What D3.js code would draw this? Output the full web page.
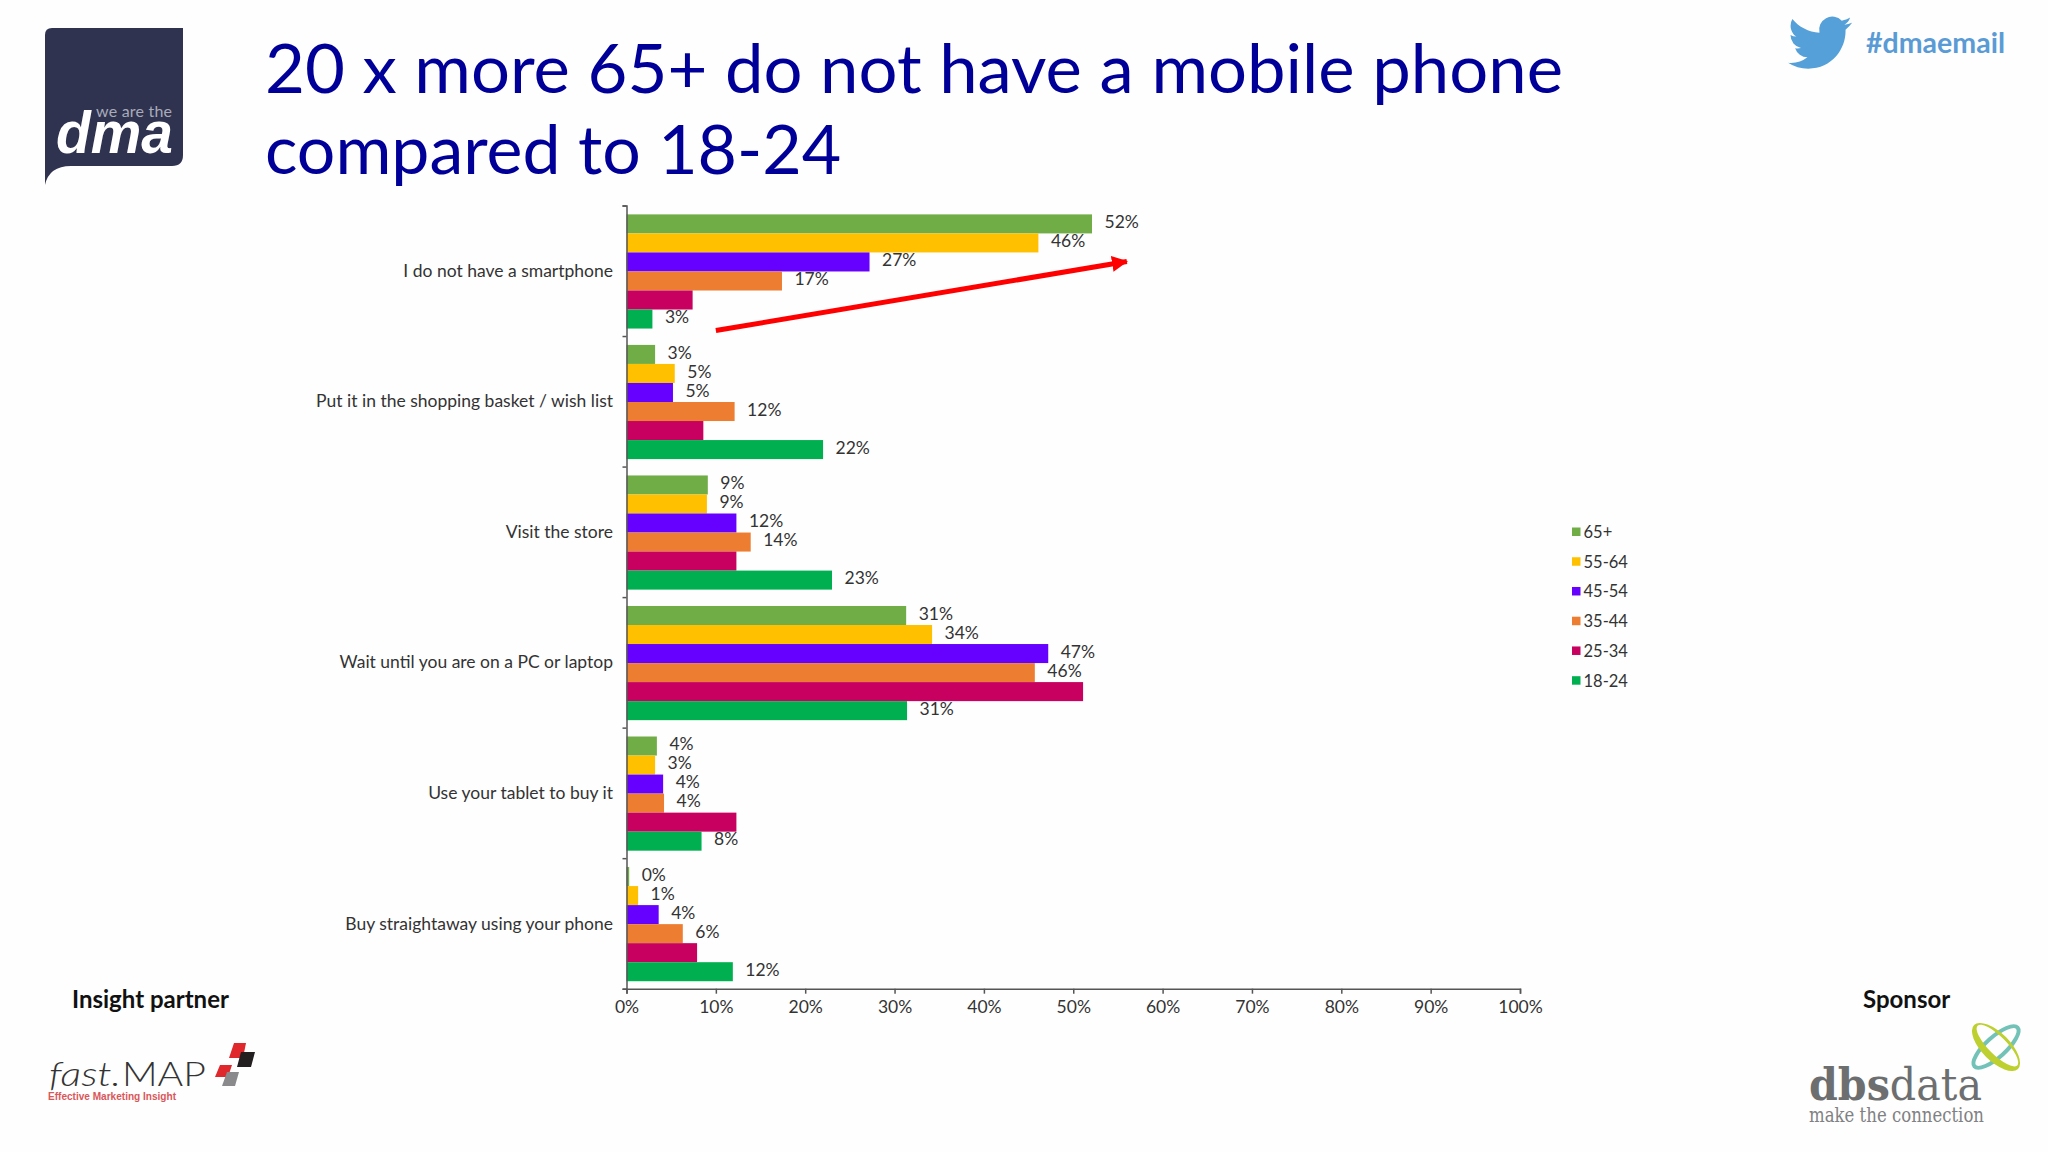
<!DOCTYPE html>
<html>
<head>
<meta charset="utf-8">
<script src="https://cdn.jsdelivr.net/npm/d3@7"></script>
<style>
	html, body { margin: 0; padding: 0; background: #fefefe; }
	svg { display: block; }
	text { font-family: Lato, sans-serif; }
	.axis path, .axis line { stroke: #555; stroke-width: 1.5px; }
	.axis text { font-size: 17.5px; fill: #333; font-family: Lato, sans-serif; }
</style>
</head>
<body>
<svg id="chart" width="2048" height="1152"></svg>
<script>
var categories = ["I do not have a smartphone", "Put it in the shopping basket / wish list", "Visit the store", "Wait until you are on a PC or laptop", "Use your tablet to buy it", "Buy straightaway using your phone"];
var series_names = ["65+", "55-64", "45-54", "35-44", "25-34", "18-24"];
var series_colors = ["#70ad47", "#ffc000", "#6600ff", "#ed7d31", "#c8005f", "#00b050"];

// bar lengths, labels as printed on it
var values_65 = [52.1, 3.2, 9.1, 31.3, 3.4, 0.3];
var values_55 = [46.1, 5.4, 9.0, 34.2, 3.2, 1.3];
var values_45 = [27.2, 5.2, 12.3, 47.2, 4.1, 3.6];
var values_35 = [17.4, 12.1, 13.9, 45.7, 4.2, 6.3];
var values_25 = [7.4, 8.6, 12.3, 51.1, 12.3, 7.9];
var values_18 = [2.9, 22.0, 23.0, 31.4, 8.4, 11.9];
var all_values = [values_65, values_55, values_45, values_35, values_25, values_18];

var labels_65 = ["52%", "3%", "9%", "31%", "4%", "0%"];
var labels_55 = ["46%", "5%", "9%", "34%", "3%", "1%"];
var labels_45 = ["27%", "5%", "12%", "47%", "4%", "4%"];
var labels_35 = ["17%", "12%", "14%", "46%", "4%", "6%"];
var labels_25 = [];
var labels_18 = ["3%", "22%", "23%", "31%", "8%", "12%"];
var all_labels = [labels_65, labels_55, labels_45, labels_35, labels_25, labels_18];

var x_ticks = [0, 10, 20, 30, 40, 50, 60, 70, 80, 90, 100];

var svg = d3.select("#chart");

var x = d3.scaleLinear().domain([0, 100]).range([626.5, 1520]);
var y_group = d3.scaleBand().domain(categories).range([206.2, 989.4]);
var y_bar = d3.scaleBand().domain(series_names).range([0, y_group.bandwidth()]).paddingOuter(0.43);
var y_edge = d3.scaleLinear().domain([0, categories.length]).range([205.5, 988.7]);

// Bars and value labels
_series();
function _series() {
	var groups = svg.selectAll("g.series")
			.data(series_names)
		.enter().append("g")
			.attr("class", "series");

	groups.each(function(name, s) {
		var g = d3.select(this);
		g.selectAll("rect")
				.data(all_values[s])
			.enter().append("rect")
				.attr("x", x(0))
				.attr("y", function(d, i) { return y_group(categories[i]) + y_bar(name); })
				.attr("width", function(d) { return x(d) - x(0); })
				.attr("height", y_bar.bandwidth())
				.attr("fill", series_colors[s]);

		g.selectAll("text")
				.data(all_labels[s])
			.enter().append("text")
				.attr("x", function(d, i) { return x(all_values[s][i]) + 12.5; })
				.attr("y", function(d, i) { return y_group(categories[i]) + y_bar(name) + y_bar.bandwidth() / 2 + 4.2; })
				.attr("font-size", 17.5)
				.attr("fill", "#333")
				.text(function(d) { return d; });
	});
}

// Axes
svg.append("g")
	.attr("class", "axis")
	.attr("transform", "translate(0,988.7)")
	.call(d3.axisBottom(x).tickValues(x_ticks).tickSize(5).tickPadding(7).tickFormat(function(d) { return d + "%"; }));

svg.append("g")
	.attr("class", "axis")
	.attr("transform", "translate(626.5,0)")
	.call(d3.axisLeft(y_edge).ticks(categories.length).tickSize(4).tickFormat(""));

svg.selectAll("text.category")
		.data(categories)
	.enter().append("text")
		.attr("class", "category")
		.attr("x", 613)
		.attr("y", function(d) { return y_group(d) + y_group.bandwidth() / 2 + 5.4; })
		.attr("text-anchor", "end")
		.attr("font-size", 17.5)
		.attr("fill", "#333")
		.text(function(d) { return d; });

// Legend
var legend_y = d3.scalePoint().domain(series_names).range([532, 680.7]);
var legend = svg.selectAll("g.legend")
		.data(series_names)
	.enter().append("g")
		.attr("class", "legend")
		.attr("transform", function(d) { return "translate(1572," + legend_y(d) + ")"; });
legend.append("rect")
	.attr("y", -4.5)
	.attr("width", 8.5)
	.attr("height", 8.5)
	.attr("fill", function(d, i) { return series_colors[i]; });
legend.append("text")
	.attr("x", 11.5)
	.attr("y", 5.8)
	.attr("font-size", 16.5)
	.attr("fill", "#333")
	.text(function(d) { return d; });

// Red arrow
svg.append("defs").append("marker")
	.attr("id", "arrow_head")
	.attr("markerUnits", "userSpaceOnUse")
	.attr("viewBox", "0 0 14 14")
	.attr("refX", 13)
	.attr("refY", 7)
	.attr("markerWidth", 16)
	.attr("markerHeight", 16)
	.attr("orient", "auto")
	.append("path")
	.attr("d", "M0,0L14,7L0,14Z")
	.attr("fill", "#ff0000");
svg.append("line")
	.attr("x1", x(10))
	.attr("y1", 330.5)
	.attr("x2", x(56))
	.attr("y2", 261.5)
	.attr("stroke", "#ff0000")
	.attr("stroke-width", 5)
	.attr("marker-end", "url(#arrow_head)");

// Title
var title = svg.append("text")
	.attr("fill", "#000099")
	.attr("font-size", 68);
title.append("tspan")
	.attr("x", 265).attr("y", 93)
	.attr("textLength", 1298)
	.attr("lengthAdjust", "spacingAndGlyphs")
	.text("20 x more 65+ do not have a mobile phone");
title.append("tspan").attr("x", 265).attr("y", 174).text("compared to 18-24");

// dma logo
svg.append("path")
	.attr("d", "M52,28H183V155Q183,166 172,166H71Q49,166 45,185V35Q45,28 52,28Z")
	.attr("fill", "#2f3350");
svg.append("text")
	.attr("x", 96).attr("y", 117)
	.attr("font-size", 16)
	.attr("fill", "#a9abb8")
	.attr("textLength", 76)
	.text("we are the");
svg.append("text")
	.attr("x", 56).attr("y", 153)
	.style("font-family", "Liberation Sans")
	.attr("font-size", 60)
	.attr("font-weight", "bold")
	.attr("font-style", "italic")
	.attr("fill", "#ffffff")
	.attr("textLength", 117)
	.attr("lengthAdjust", "spacingAndGlyphs")
	.text("dma");

// Twitter
svg.append("path")
	.attr("transform", "translate(1788,10.6) scale(2.67)")
	.attr("d", "M23.953 4.57a10 10 0 01-2.825.775 4.958 4.958 0 002.163-2.723c-.951.555-2.005.959-3.127 1.184a4.92 4.92 0 00-8.384 4.482C7.69 8.095 4.067 6.13 1.64 3.162a4.822 4.822 0 00-.666 2.475c0 1.71.87 3.213 2.188 4.096a4.904 4.904 0 01-2.228-.616v.06a4.923 4.923 0 003.946 4.827 4.996 4.996 0 01-2.212.085 4.936 4.936 0 004.604 3.417 9.867 9.867 0 01-6.102 2.105c-.39 0-.779-.023-1.17-.067a13.995 13.995 0 007.557 2.209c9.053 0 13.998-7.496 13.998-13.985 0-.21 0-.42-.015-.63A9.935 9.935 0 0024 4.59z")
	.attr("fill", "#55a0d8");
svg.append("text")
	.attr("x", 1866).attr("y", 53)
	.attr("font-size", 29)
	.attr("font-weight", "bold")
	.attr("fill", "#5b9bd5")
	.attr("textLength", 139)
	.attr("lengthAdjust", "spacingAndGlyphs")
	.text("#dmaemail");

// Partner captions
svg.append("text")
	.attr("x", 72).attr("y", 1007.5)
	.attr("font-size", 24)
	.attr("font-weight", "bold")
	.attr("fill", "#111")
	.text("Insight partner");
svg.append("text")
	.attr("x", 1863).attr("y", 1007.5)
	.attr("font-size", 24)
	.attr("font-weight", "bold")
	.attr("fill", "#111")
	.text("Sponsor");

// fast.MAP logo
svg.append("text")
	.attr("x", 49).attr("y", 1086)
	.attr("font-size", 34)
	.attr("font-weight", 300)
	.attr("font-style", "italic")
	.attr("fill", "#333")
	.attr("textLength", 72)
	.attr("lengthAdjust", "spacingAndGlyphs")
	.text("fast.");
svg.append("text")
	.attr("x", 122).attr("y", 1086)
	.attr("font-size", 33)
	.attr("font-weight", 300)
	.attr("fill", "#333")
	.attr("textLength", 84)
	.attr("lengthAdjust", "spacingAndGlyphs")
	.text("MAP");
svg.append("text")
	.attr("x", 48).attr("y", 1100)
	.style("font-family", "Liberation Sans")
	.attr("font-size", 10.5)
	.attr("font-weight", "bold")
	.attr("fill", "#d9575a")
	.attr("textLength", 128)
	.attr("lengthAdjust", "spacingAndGlyphs")
	.text("Effective Marketing Insight");
svg.append("path").attr("d", "M234,1043H246L243,1058H229Z").attr("fill", "#e0282c");
svg.append("path").attr("d", "M241,1052H255L251,1067H237Z").attr("fill", "#231f20");
svg.append("path").attr("d", "M220,1065H232L228,1077H215Z").attr("fill", "#e0282c");
svg.append("path").attr("d", "M227,1072H239L235,1086H222Z").attr("fill", "#8a8a8c");

// dbsdata logo
var dbs = svg.append("text")
	.attr("x", 1809).attr("y", 1100)
	.style("font-family", "DejaVu Serif")
	.attr("font-size", 45)
	.attr("fill", "#6d6e70")
	.attr("textLength", 173)
	.attr("lengthAdjust", "spacingAndGlyphs");
dbs.append("tspan").attr("font-weight", "bold").text("dbs");
dbs.append("tspan").text("data");
svg.append("text")
	.attr("x", 1809).attr("y", 1121.5)
	.style("font-family", "DejaVu Serif")
	.attr("font-size", 21)
	.attr("fill", "#808183")
	.attr("textLength", 175)
	.attr("lengthAdjust", "spacingAndGlyphs")
	.text("make the connection");
svg.append("ellipse")
	.attr("transform", "translate(1996,1047) rotate(-42)")
	.attr("rx", 29).attr("ry", 10)
	.attr("fill", "none")
	.attr("stroke", "#72c2b8")
	.attr("stroke-width", 4);
svg.append("path")
	.attr("transform", "translate(1996,1047) rotate(45)")
	.attr("d", "M-31,0A31,14 0 1 1 31,0A31,14 0 1 1 -31,0ZM-28,-2A28,9 0 1 0 28,-2A28,9 0 1 0 -28,-2Z")
	.attr("fill", "#bdd02f")
	.attr("fill-rule", "evenodd");
</script>
</body>
</html>
